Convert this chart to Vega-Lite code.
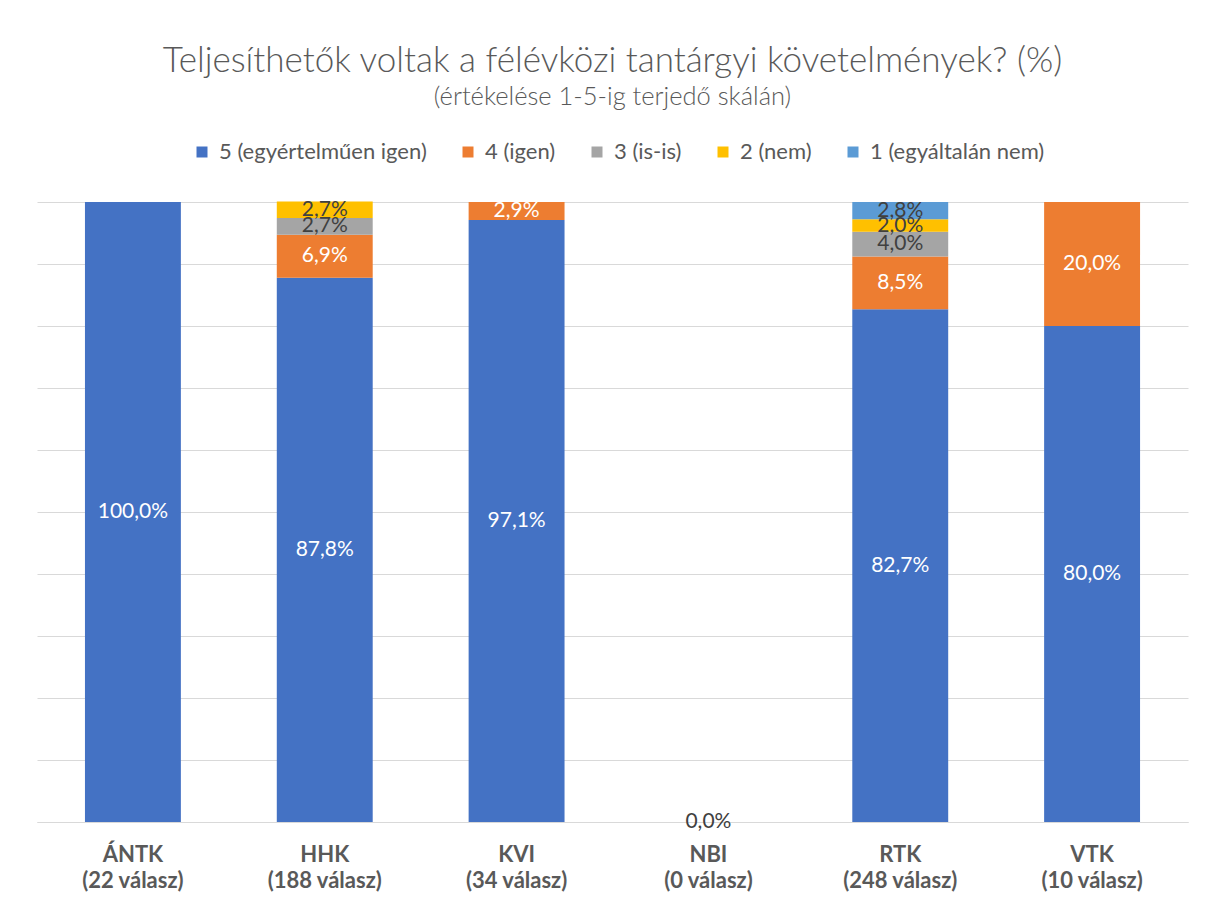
{
  "$schema": "https://vega.github.io/schema/vega-lite/v6.json",
  "width": 1151,
  "height": 620,
  "autosize": "none",
  "padding": {"left": 37, "top": 202, "right": 18, "bottom": 83},
  "background": "white",
  "title": {
    "text": "Teljesíthetők voltak a félévközi tantárgyi követelmények? (%)",
    "subtitle": "(értékelése 1-5-ig terjedő skálán)",
    "anchor": "middle",
    "font": "Lato",
    "fontSize": 35,
    "fontWeight": 300,
    "color": "#595959",
    "subtitleFont": "Lato",
    "subtitleFontSize": 25.5,
    "subtitleFontWeight": 300,
    "subtitleColor": "#595959",
    "subtitlePadding": 6,
    "offset": 31
  },
  "data": {
    "values": [
      {"k": "ÁNTK|(22 válasz)", "s": "5 (egyértelműen igen)", "v": 100.0},
      {"k": "HHK|(188 válasz)", "s": "5 (egyértelműen igen)", "v": 87.8},
      {"k": "HHK|(188 válasz)", "s": "4 (igen)", "v": 6.9},
      {"k": "HHK|(188 válasz)", "s": "3 (is-is)", "v": 2.7},
      {"k": "HHK|(188 válasz)", "s": "2 (nem)", "v": 2.7},
      {"k": "KVI|(34 válasz)", "s": "5 (egyértelműen igen)", "v": 97.1},
      {"k": "KVI|(34 válasz)", "s": "4 (igen)", "v": 2.9},
      {"k": "NBI|(0 válasz)", "s": "5 (egyértelműen igen)", "v": 0.0},
      {"k": "RTK|(248 válasz)", "s": "5 (egyértelműen igen)", "v": 82.7},
      {"k": "RTK|(248 válasz)", "s": "4 (igen)", "v": 8.5},
      {"k": "RTK|(248 válasz)", "s": "3 (is-is)", "v": 4.0},
      {"k": "RTK|(248 válasz)", "s": "2 (nem)", "v": 2.0},
      {"k": "RTK|(248 válasz)", "s": "1 (egyáltalán nem)", "v": 2.8},
      {"k": "VTK|(10 válasz)", "s": "5 (egyértelműen igen)", "v": 80.0},
      {"k": "VTK|(10 válasz)", "s": "4 (igen)", "v": 20.0}
    ]
  },
  "transform": [
    {"stack": "v", "groupby": ["k"], "as": ["y0", "y1"], "sort": [{"field": "s", "order": "descending"}]},
    {"calculate": "(datum.y0 + datum.y1) / 2", "as": "mid"},
    {"calculate": "replace(format(datum.v, '.1f'), '.', ',') + '%'", "as": "lbl"}
  ],
  "encoding": {
    "x": {
      "field": "k",
      "type": "nominal",
      "sort": ["ÁNTK|(22 válasz)", "HHK|(188 válasz)", "KVI|(34 válasz)", "NBI|(0 válasz)", "RTK|(248 válasz)", "VTK|(10 válasz)"],
      "scale": {"paddingInner": 0.5, "paddingOuter": 0.25},
      "axis": {
        "title": null,
        "labelAngle": 0,
        "labelExpr": "split(datum.label, '|')",
        "labelFont": "Lato",
        "labelFontSize": 22,
        "labelFontWeight": "bold",
        "labelColor": "#595959",
        "labelLineHeight": 26,
        "labelPadding": 22,
        "ticks": false,
        "domain": true,
        "domainColor": "#D9D9D9"
      }
    }
  },
  "layer": [
    {
      "mark": {"type": "bar"},
      "encoding": {
        "y": {
          "field": "y1",
          "type": "quantitative",
          "scale": {"domain": [0, 100], "nice": false},
          "axis": {
            "title": null,
            "labels": false,
            "ticks": false,
            "domain": false,
            "grid": true,
            "gridColor": "#D9D9D9",
            "values": [0, 10, 20, 30, 40, 50, 60, 70, 80, 90, 100]
          }
        },
        "y2": {"field": "y0"},
        "color": {
          "field": "s",
          "type": "nominal",
          "scale": {
            "domain": ["5 (egyértelműen igen)", "4 (igen)", "3 (is-is)", "2 (nem)", "1 (egyáltalán nem)"],
            "range": ["#4472C4", "#ED7D31", "#A5A5A5", "#FFC000", "#5B9BD5"]
          },
          "legend": {
            "title": null,
            "orient": "none",
            "legendX": 154,
            "legendY": -61,
            "direction": "horizontal",
            "symbolType": "square",
            "symbolSize": 121,
            "symbolStrokeWidth": 0,
            "labelFont": "Lato",
            "labelFontSize": 22,
            "labelLimit": 400,
            "labelColor": "#595959",
            "labelOffset": 6,
            "columnPadding": 30
          }
        }
      }
    },
    {
      "mark": {"type": "text", "font": "Lato", "fontSize": 21, "baseline": "middle", "align": "center"},
      "encoding": {
        "y": {"field": "mid", "type": "quantitative"},
        "text": {"field": "lbl"},
        "color": {
          "condition": {"test": "datum.v === 0 || (datum.s !== '5 (egyértelműen igen)' && datum.s !== '4 (igen)')", "value": "#404040"},
          "value": "white"
        }
      }
    }
  ],
  "config": {"view": {"stroke": null}}
}
